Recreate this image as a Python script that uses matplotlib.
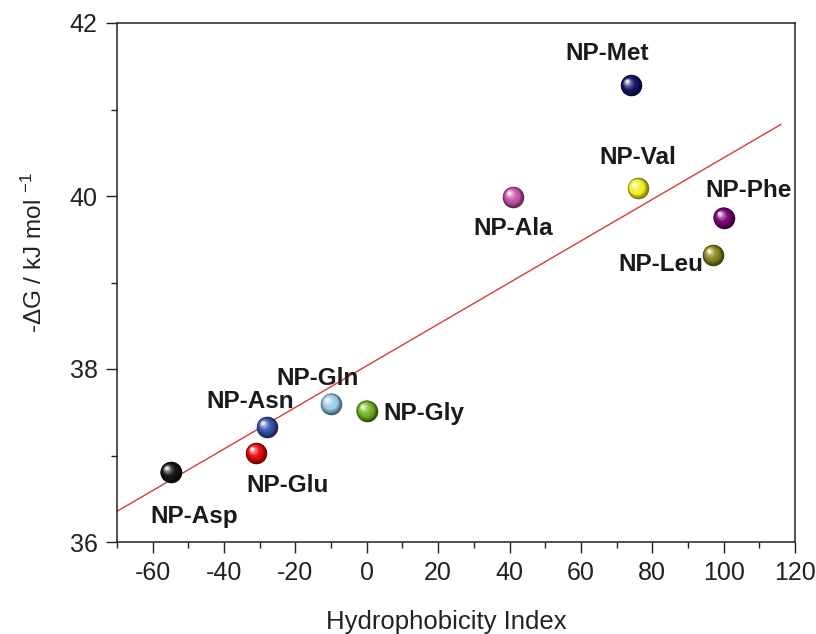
import numpy as np
import matplotlib
matplotlib.use("Agg")
import matplotlib.pyplot as plt
import matplotlib.colors as mcolors
from matplotlib.transforms import offset_copy
from matplotlib.ticker import MultipleLocator

plt.rcParams["font.family"] = ["Liberation Sans", "DejaVu Sans"]
plt.rcParams["mathtext.fontset"] = "custom"
plt.rcParams["mathtext.rm"] = "Liberation Sans"
plt.rcParams["mathtext.default"] = "regular"
plt.rcParams["axes.unicode_minus"] = False

# Hydrophobicity index and binding free energy for each amino-acid-capped nanoparticle
names = ["NP-Asp", "NP-Glu", "NP-Asn", "NP-Gln", "NP-Gly",
         "NP-Ala", "NP-Met", "NP-Val", "NP-Leu", "NP-Phe"]
hydrophobicity = [-55, -31, -28, -10, 0, 41, 74, 76, 97, 100]
neg_dG = [36.81, 37.03, 37.33, 37.60, 37.52, 39.99, 41.28, 40.09, 39.32, 39.75]
colors = ["#141414", "#e00808", "#3450a8", "#98cce8", "#72b41e",
          "#c452a4", "#141466", "#f2f020", "#84841c", "#760076"]
# label anchor positions (data units)
label_x = [-48.4, -22.1, -32.8, -13.9, 16.1, 41.1, 67.3, 76.0, 82.5, 107.0]
label_y = [36.29, 36.65, 37.62, 37.89, 37.48, 39.63, 41.65, 40.45, 39.21, 40.06]

fig = plt.figure(figsize=(8.16, 6.34), dpi=100)
ax = fig.add_axes([117 / 816, 92 / 634, 678 / 816, 519 / 634])

# linear fit of the data
slope, intercept = np.polyfit(hydrophobicity, neg_dG, 1)
fit_x = np.array([-70, 116])
ax.plot(fit_x, slope * fit_x + intercept, color="#d83a3a", lw=1.0, zorder=2)


def sphere(ax, x, y, color, diam=15.5, n=14):
    """Shaded ball marker built from stacked discs."""
    base = np.array(mcolors.to_rgb(color))
    dark = base * 0.45
    white = np.ones(3)
    ax.scatter([x], [y], s=diam ** 2, color=dark, lw=0, zorder=3)
    for k in range(1, n + 1):
        t = k / n
        if t < 0.35:
            c = dark + (base - dark) * (t / 0.35)
        else:
            u = (t - 0.35) / 0.65
            c = base + (white - base) * (u ** 1.8) * 0.92
        d = diam * (1 - 0.87 * t)
        off = 0.2 * diam * t
        tr = offset_copy(ax.transData, fig=ax.figure, x=-off, y=off, units="points")
        ax.scatter([x], [y], s=d ** 2, color=c, lw=0, zorder=3 + k * 0.01,
                   transform=tr)


for xi, yi, c in zip(hydrophobicity, neg_dG, colors):
    sphere(ax, xi, yi, c)

for name, lx, ly in zip(names, label_x, label_y):
    ax.text(lx, ly, name, fontsize=17.5, fontweight="bold", ha="center",
            va="center", color="#1a1a1a", zorder=5)

ax.set_xlim(-70, 120)
ax.set_ylim(36, 42)
ax.xaxis.set_major_locator(MultipleLocator(20))
ax.xaxis.set_minor_locator(MultipleLocator(10))
ax.yaxis.set_major_locator(MultipleLocator(2))
ax.yaxis.set_minor_locator(MultipleLocator(1))
ax.tick_params(which="major", direction="out", length=8, width=1.0,
               labelsize=18, pad=6, top=False, right=False, colors="#222222")
ax.tick_params(which="minor", direction="out", length=4.5, width=1.0,
               top=False, right=False, colors="#222222")
for sp in ax.spines.values():
    sp.set_linewidth(1.1)
    sp.set_color("#222222")

ax.set_xlabel("Hydrophobicity Index", fontsize=18.5, color="#222222")
ax.xaxis.set_label_coords(0.485, -0.154)
ax.xaxis.label.set_va("center")
ax.set_ylabel("-\u0394G / kJ mol $^{-1}$", fontsize=17.5, color="#222222")
ax.yaxis.set_label_coords(-0.122, 0.557)
ax.yaxis.label.set_va("center")

fig.savefig("out.png", dpi=100)
